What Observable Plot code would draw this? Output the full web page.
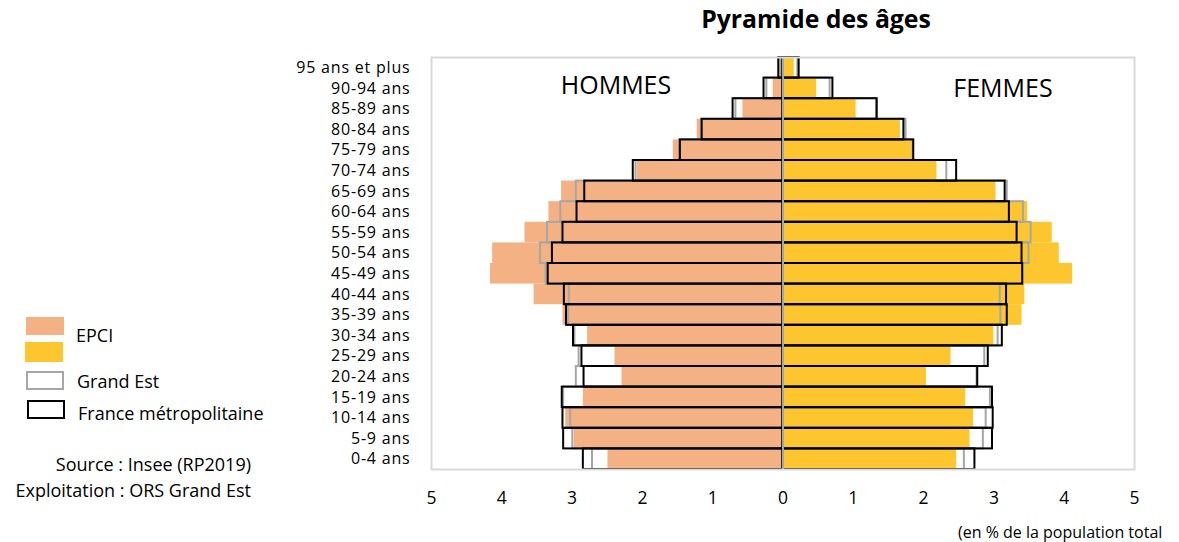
<!DOCTYPE html>
<html><head><meta charset="utf-8">
<script src="https://cdn.jsdelivr.net/npm/d3@7"></script>
<script src="https://cdn.jsdelivr.net/npm/@observablehq/plot@0.6"></script>
<style>
html,body{margin:0;padding:0;background:#fff;}
#wrap{position:relative;width:1179px;height:542px;font-family:"Open Sans",sans-serif;color:#000;overflow:hidden;}
#chart{position:absolute;left:0;top:0;}
.abs{position:absolute;white-space:nowrap;}
#title{left:816px;top:4px;transform:translateX(-50%);font-weight:bold;font-size:24.8px;line-height:28px;}
.sex{font-size:25px;line-height:30px;transform:translate(-50%,-50%);}
.leg{font-size:18px;line-height:22px;transform:translateY(-50%);}
.sw{position:absolute;box-sizing:border-box;}
.src{font-size:18px;line-height:22px;right:928px;text-align:right;transform:translateY(-50%);}
#unit{left:958px;top:532px;font-size:16px;line-height:20px;transform:translateY(-50%);}
#chart g[aria-label="y-axis tick label"] text{letter-spacing:0.8px;}
</style></head><body>
<div id="wrap">
  <div id="chart"></div>
  <div class="abs" id="title">Pyramide des âges</div>
  <div class="abs sex" style="left:616px;top:84px;">HOMMES</div>
  <div class="abs sex" style="left:1003px;top:87px;">FEMMES</div>
  <div class="sw" style="left:26px;top:317px;width:38px;height:18px;background:#F4B183;"></div>
  <div class="sw" style="left:25px;top:342px;width:38px;height:20px;background:#FDC62F;"></div>
  <div class="abs leg" style="left:76px;top:335px;">EPCI</div>
  <div class="sw" style="left:26px;top:371px;width:38px;height:19px;border:2px solid #a6a6a6;"></div>
  <div class="abs leg" style="left:77px;top:381px;">Grand Est</div>
  <div class="sw" style="left:27px;top:400px;width:38px;height:19px;border:2px solid #000;"></div>
  <div class="abs leg" style="left:78px;top:413px;">France métropolitaine</div>
  <div class="abs src" style="top:464px;">Source : Insee (RP2019)</div>
  <div class="abs src" style="top:490px;">Exploitation : ORS Grand Est</div>
  <div class="abs" id="unit">(en % de la population total</div>
</div>
<script>
// Age groups, youngest first
const ages = ["0-4 ans","5-9 ans","10-14 ans","15-19 ans","20-24 ans","25-29 ans","30-34 ans","35-39 ans","40-44 ans","45-49 ans","50-54 ans","55-59 ans","60-64 ans","65-69 ans","70-74 ans","75-79 ans","80-84 ans","85-89 ans","90-94 ans","95 ans et plus"];
const epciHommes     = [2.49,2.97,3.09,2.84,2.29,2.39,2.78,3.13,3.54,4.16,4.13,3.67,3.33,3.15,2.07,1.56,1.22,0.57,0.14,0.01];
const epciFemmes     = [2.47,2.66,2.71,2.60,2.04,2.39,3.00,3.40,3.44,4.12,3.93,3.83,3.48,3.03,2.19,1.84,1.67,1.04,0.48,0.16];
const grandEstHommes = [2.71,2.99,3.02,3.12,2.94,2.90,2.96,3.05,3.04,3.37,3.45,3.35,3.16,2.94,2.09,1.47,1.16,0.67,0.23,0.03];
const grandEstFemmes = [2.58,2.85,2.89,2.95,2.76,2.87,3.06,3.10,3.09,3.41,3.50,3.53,3.42,3.19,2.33,1.85,1.75,1.33,0.67,0.21];
const franceHommes   = [2.84,3.12,3.13,3.14,2.83,2.86,2.98,3.08,3.11,3.34,3.28,3.13,2.93,2.82,2.13,1.46,1.15,0.71,0.27,0.06];
const franceFemmes   = [2.73,2.98,2.99,2.98,2.77,2.92,3.12,3.19,3.18,3.41,3.40,3.33,3.22,3.16,2.47,1.86,1.72,1.34,0.71,0.23];
const xTicks = [-5,-4,-3,-2,-1,0,1,2,3,4,5];

const data = ages.map((age, i) => ({
  age,
  eh: epciHommes[i], ef: epciFemmes[i],
  gh: grandEstHommes[i], gf: grandEstFemmes[i],
  fh: franceHommes[i], ff: franceFemmes[i]
}));

const chart = Plot.plot({
  width: 1179, height: 542,
  marginLeft: 431, marginRight: 45, marginTop: 57, marginBottom: 73,
  style: {fontFamily: '"Open Sans", sans-serif', fontSize: "17.5px", color: "#000", background: "transparent", overflow: "visible"},
  x: {domain: [-5, 5], ticks: xTicks, tickFormat: d => Math.abs(d), tickSize: 0, tickPadding: 22, label: null},
  y: {domain: ages.slice().reverse(), padding: 0, round: false, label: null},
  marks: [
    Plot.axisY({tickSize: 0, tickPadding: 21, fontSize: 16, label: null}),
    Plot.barX(data, {y: "age", x1: d => -d.eh, x2: 0, fill: "#F4B183"}),
    Plot.barX(data, {y: "age", x1: 0, x2: "ef", fill: "#FDC62F"}),
    Plot.barX(data, {y: "age", x1: d => -d.gh, x2: 0, fill: "none", stroke: "#a6a6a6", strokeWidth: 2}),
    Plot.barX(data, {y: "age", x1: 0, x2: "gf", fill: "none", stroke: "#a6a6a6", strokeWidth: 2}),
    Plot.barX(data, {y: "age", x1: d => -d.fh, x2: 0, fill: "none", stroke: "#000", strokeWidth: 2}),
    Plot.barX(data, {y: "age", x1: 0, x2: "ff", fill: "none", stroke: "#000", strokeWidth: 2}),
    Plot.ruleX([0], {stroke: "#a6a6a6", strokeWidth: 2}),
    Plot.frame({stroke: "#d9d9d9", strokeWidth: 2})
  ]
});
document.getElementById("chart").appendChild(chart);
</script>
</body></html>
